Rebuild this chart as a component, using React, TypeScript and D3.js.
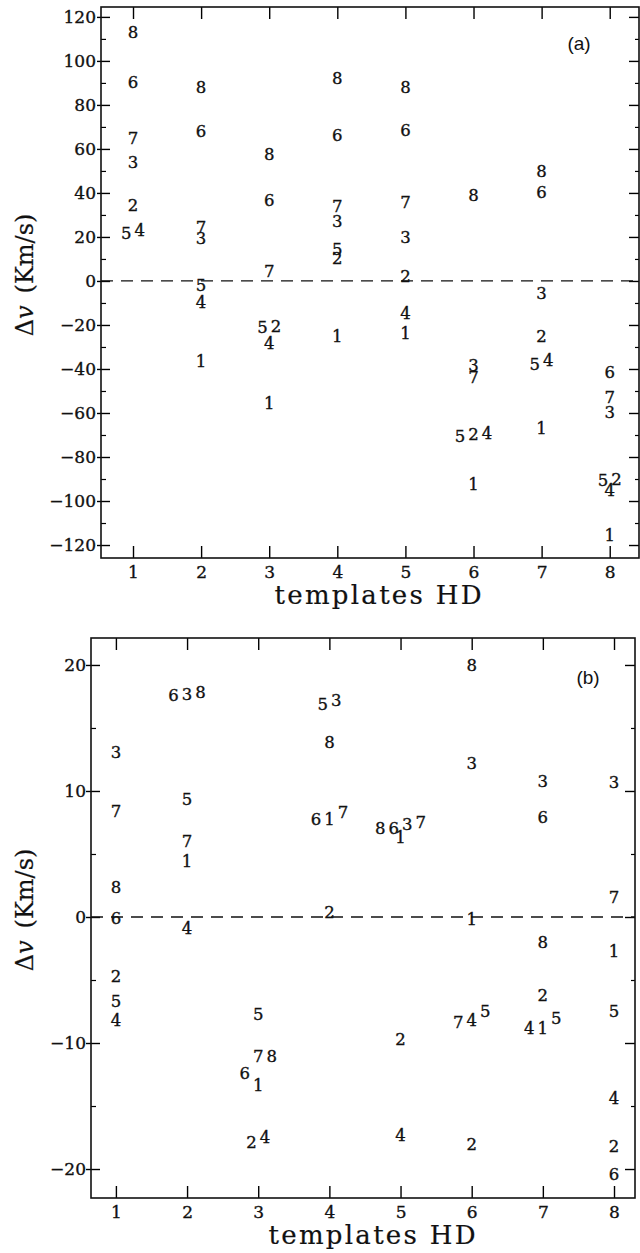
import { useEffect, useRef } from 'react';
import * as d3 from 'd3';

const templates = [1, 2, 3, 4, 5, 6, 7, 8];
const stars = ['1', '2', '3', '4', '5', '6', '7', '8'];

// Δv (km/s) of star i (rows) against template HD j (columns); null where star = template
const dvA = [
  [null, -36.4, -55.6, -25, -23.5, -92.3, -67, -115.5],
  [34.5, null, -20.5, 10.3, 2, -69.7, -25, -90.2],
  [54, 19.4, null, 27.4, 19.9, -38.2, -5.3, -59.7],
  [23.2, -9.4, -28.3, null, -14.7, -69, -35.9, -95],
  [21.7, -1.8, -20.8, 14.5, null, -70.5, -37.7, -90.5],
  [90.3, 67.9, 36.8, 66.4, 68.6, null, 40.6, -41.2],
  [65, 24.7, 4.7, 34, 35.8, -43.5, null, -52.9],
  [113, 88, 57.6, 92.4, 88, 39, 50.1, null],
];

const dvB = [
  [null, 4.46, -13.3, 7.74, 6.36, -0.16, -8.83, -2.67],
  [-4.7, null, -17.9, 0.42, -9.7, -18, -6.2, -18.2],
  [13.1, 17.7, null, 17.2, 7.36, 12.2, 10.8, 10.7],
  [-8.2, -0.9, -17.5, null, -17.3, -8.16, -8.83, -14.4],
  [-6.7, 9.35, -7.7, 16.9, null, -7.5, -8.0, -7.5],
  [-0.1, 17.65, -12.4, 7.74, 7.08, null, 7.9, -20.4],
  [8.4, 6.05, -11.07, 8.3, 7.55, -8.3, null, 1.6],
  [2.35, 17.85, -11.0, 13.9, 7.08, 19.97, -2.0, null],
];

const yTicksA = [-120, -100, -80, -60, -40, -20, 0, 20, 40, 60, 80, 100, 120];
const yTicksB = [-20, -10, 0, 10, 20];

// labels written side by side at one template: [template, stars left to right]
const groupsA: [number, number[]][] = [
  [1, [5, 4]],
  [3, [5, 2]],
  [6, [5, 2, 4]],
  [7, [5, 4]],
  [8, [5, 2]],
];
const groupsB: [number, number[]][] = [
  [2, [6, 3, 8]],
  [3, [6, 7, 8]],
  [3, [2, 4]],
  [4, [5, 3]],
  [4, [6, 1, 7]],
  [5, [8, 6, 3, 7]],
  [6, [7, 4, 5]],
  [7, [4, 1, 5]],
];

const SERIF = '"DejaVu Serif", serif';
const INK = '#111';

function inked(sel, size) {
  sel
    .attr('font-family', SERIF)
    .attr('font-size', size)
    .attr('fill', INK)
    .attr('stroke', INK)
    .attr('stroke-width', 0.35);
}

function drawPanel(svg, cfg, dv, yTicks, groups) {
  const g = svg.append('g');
  const x = d3.scaleLinear().domain(cfg.xDomain).range([cfg.left, cfg.right]);
  const y = d3.scaleLinear().domain(cfg.yDomain).range([cfg.bottom, cfg.top]);
  const minor = d3
    .range(yTicks[0] - cfg.minorStep, cfg.yDomain[1], cfg.minorStep)
    .filter((v) => v > cfg.yDomain[0] && !yTicks.includes(v));

  // left axis with labels
  const left = g
    .append('g')
    .attr('transform', `translate(${cfg.left},0)`)
    .call(d3.axisLeft(y).tickValues(yTicks).tickSizeInner(-9).tickSizeOuter(0).tickPadding(5));
  left.selectAll('.tick line').attr('x1', -cfg.outTick).attr('stroke-width', 1.4);
  inked(left.selectAll('text'), 17);

  g.append('g')
    .attr('transform', `translate(${cfg.left},0)`)
    .call(d3.axisLeft(y).tickValues(minor).tickSizeInner(-5).tickSizeOuter(0).tickFormat(() => ''))
    .selectAll('.tick line')
    .attr('stroke-width', 1.2);

  // right axis
  g.append('g')
    .attr('transform', `translate(${cfg.right},0)`)
    .call(d3.axisRight(y).tickValues(yTicks).tickSizeInner(-10).tickSizeOuter(0).tickFormat(() => ''))
    .selectAll('.tick line')
    .attr('stroke-width', 1.4);
  g.append('g')
    .attr('transform', `translate(${cfg.right},0)`)
    .call(d3.axisRight(y).tickValues(minor).tickSizeInner(-4).tickSizeOuter(0).tickFormat(() => ''))
    .selectAll('.tick line')
    .attr('stroke-width', 1.2);

  // bottom axis with labels
  const bottom = g
    .append('g')
    .attr('transform', `translate(0,${cfg.bottom})`)
    .call(d3.axisBottom(x).tickValues(templates).tickSizeInner(-12).tickSizeOuter(0).tickPadding(8));
  bottom.selectAll('.tick line').attr('stroke-width', 1.4);
  inked(bottom.selectAll('text'), 17);

  g.append('g')
    .attr('transform', `translate(0,${cfg.top})`)
    .call(d3.axisTop(x).tickValues(templates).tickSizeInner(-12).tickSizeOuter(0).tickFormat(() => ''))
    .selectAll('.tick line')
    .attr('stroke-width', 1.4);

  g.selectAll('.domain').remove();

  g.append('rect')
    .attr('x', cfg.left)
    .attr('y', cfg.top)
    .attr('width', cfg.right - cfg.left)
    .attr('height', cfg.bottom - cfg.top)
    .attr('fill', 'none')
    .attr('stroke', INK)
    .attr('stroke-width', 1.6);

  // zero line
  g.append('line')
    .attr('x1', cfg.left)
    .attr('x2', cfg.right)
    .attr('y1', y(0))
    .attr('y2', y(0))
    .attr('stroke', INK)
    .attr('stroke-width', 1.3)
    .attr('stroke-dasharray', '12,8');

  // star numbers
  const pts = [];
  dv.forEach((row, i) => {
    row.forEach((v, j) => {
      if (v == null) return;
      const t = templates[j];
      const grp = groups.find((gr) => gr[0] === t && gr[1].includes(i + 1));
      let off = 0;
      if (grp) {
        const k = grp[1].indexOf(i + 1);
        off = (k - (grp[1].length - 1) / 2) * 13.5;
      }
      pts.push({ label: stars[i], t, v, off });
    });
  });

  const labels = g
    .append('g')
    .selectAll('text')
    .data(pts)
    .join('text')
    .attr('x', (d) => x(d.t) + d.off)
    .attr('y', (d) => y(d.v))
    .attr('dy', '0.36em')
    .attr('text-anchor', 'middle')
    .text((d) => d.label);
  inked(labels, 16.5);

  // panel tag
  g.append('text')
    .attr('x', cfg.tag[0])
    .attr('y', cfg.tag[1])
    .attr('dy', '0.35em')
    .attr('text-anchor', 'middle')
    .attr('font-family', '"Liberation Sans", Arial, sans-serif')
    .attr('font-size', 19)
    .attr('fill', INK)
    .text(cfg.tagText);

  // x title
  const xt = g
    .append('text')
    .attr('x', cfg.titleX)
    .attr('y', cfg.bottom + 46)
    .attr('text-anchor', 'middle')
    .attr('textLength', 207)
    .attr('lengthAdjust', 'spacing')
    .text('templates HD');
  inked(xt, 26);
  xt.attr('stroke-width', 0.2);

  // y title
  const yt = g
    .append('text')
    .attr('transform', `translate(25,${cfg.yTitleY}) rotate(-90)`)
    .attr('text-anchor', 'middle')
    .attr('dy', '0.35em');
  inked(yt, 24);
  yt.attr('stroke-width', 0.2);
  yt.append('tspan').text('Δ');
  yt.append('tspan').attr('font-style', 'italic').text('v');
  yt.append('tspan').attr('dx', 12).text('(Km/s)');
}

const App = () => {
  const svgRef = useRef(null);

  useEffect(() => {
    const svg = d3.select(svgRef.current);
    svg.selectAll('*').remove();

    drawPanel(
      svg,
      {
        left: 101, right: 639, top: 7, bottom: 558,
        xDomain: [0.53, 8.43], yDomain: [-125.9, 124.5],
        minorStep: 10, outTick: 4,
        tag: [579, 43], tagText: '(a)', titleX: 378, yTitleY: 275,
      },
      dvA, yTicksA, groupsA
    );

    drawPanel(
      svg,
      {
        left: 91, right: 635, top: 638, bottom: 1198,
        xDomain: [0.65, 8.295], yDomain: [-22.3, 22.14],
        minorStep: 5, outTick: 5,
        tag: [588, 677], tagText: '(b)', titleX: 372, yTitleY: 910,
      },
      dvB, yTicksB, groupsB
    );
  }, []);

  return (
    <svg
      ref={svgRef}
      width={640}
      height={1253}
      style={{ position: 'absolute', left: 0, top: 0, background: '#fff' }}
    />
  );
};

export default App;
